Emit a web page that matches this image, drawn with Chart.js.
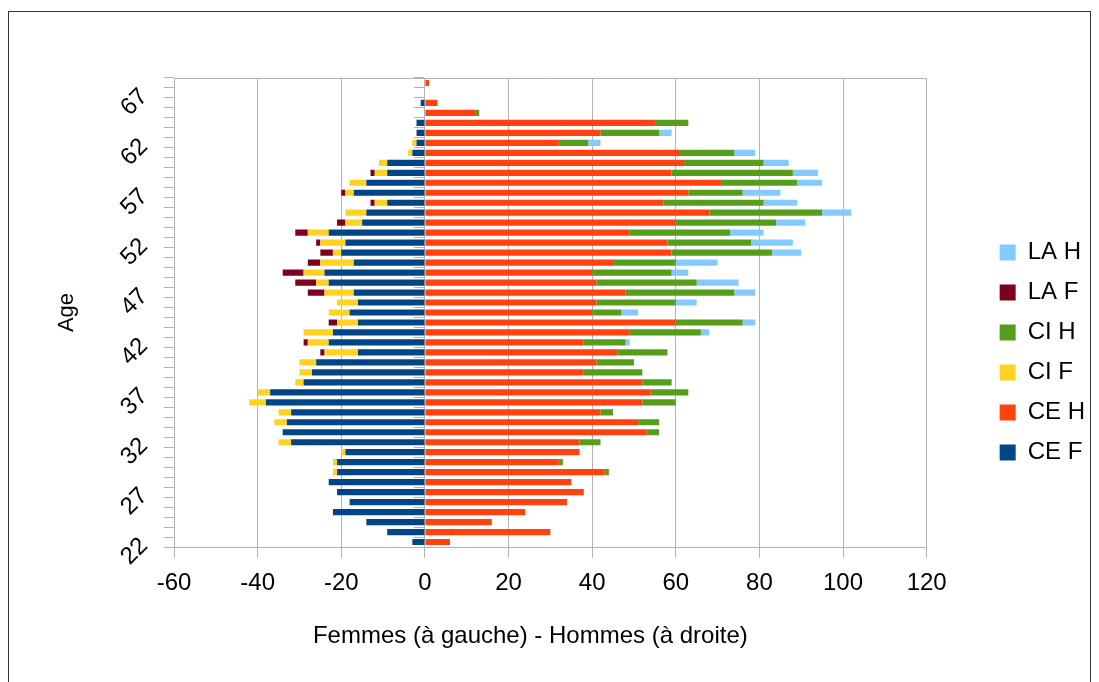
<!DOCTYPE html>
<html>
<head>
<meta charset="utf-8">
<script src="https://cdn.jsdelivr.net/npm/chart.js@4.4.1/dist/chart.umd.min.js"></script>
<style>
  html, body { margin: 0; padding: 0; background: #fff; }
  #frame { position: absolute; left: 8px; top: 11px; width: 1083px; height: 700px; border: 1px solid #333; box-sizing: border-box; }
  #wrap { position: absolute; left: 0; top: 0; width: 1099px; height: 682px; }
</style>
</head>
<body>
<div id="frame"></div>
<div id="wrap"><canvas id="pyramid"></canvas></div>
<script>
// ages 22 .. 68, bottom to top
const ages = [22, 23, 24, 25, 26, 27, 28, 29, 30, 31, 32, 33, 34, 35, 36, 37, 38, 39, 40,
  41, 42, 43, 44, 45, 46, 47, 48, 49, 50, 51, 52, 53, 54, 55, 56, 57, 58, 59, 60,
  61, 62, 63, 64, 65, 66, 67, 68];

// femmes (drawn on the left)
const ceF = [3, 9, 14, 22, 18, 21, 23, 21, 21, 19, 32, 34, 33, 32, 38, 37, 29, 27, 26,
  16, 23, 22, 16, 18, 16, 17, 23, 24, 17, 20, 19, 23, 15, 14, 9, 17, 14, 9, 9,
  3, 2, 2, 2, 0, 1, 0, 0];
const ciF = [0, 0, 0, 0, 0, 0, 0, 1, 1, 1, 3, 0, 3, 3, 4, 3, 2, 3, 4,
  8, 5, 7, 5, 5, 5, 7, 3, 5, 8, 2, 6, 5, 4, 5, 3, 2, 4, 3, 2,
  1, 1, 0, 0, 0, 0, 0, 0];
const laF = [0, 0, 0, 0, 0, 0, 0, 0, 0, 0, 0, 0, 0, 0, 0, 0, 0, 0, 0,
  1, 1, 0, 2, 0, 0, 4, 5, 5, 3, 3, 1, 3, 2, 0, 1, 1, 0, 1, 0,
  0, 0, 0, 0, 0, 0, 0, 0];

// hommes (drawn on the right)
const ceH = [6, 30, 16, 24, 34, 38, 35, 43, 32, 37, 37, 53, 51, 42, 52, 54, 52, 38, 41,
  46, 38, 49, 60, 40, 41, 48, 41, 40, 45, 59, 58, 49, 60, 68, 57, 63, 71, 59, 62,
  61, 32, 42, 55, 12, 3, 0, 1];
const ciH = [0, 0, 0, 0, 0, 0, 0, 1, 1, 0, 5, 3, 5, 3, 8, 9, 7, 14, 9,
  12, 10, 17, 16, 7, 19, 26, 24, 19, 15, 24, 20, 24, 24, 27, 24, 13, 18, 29, 19,
  13, 7, 14, 8, 1, 0, 0, 0];
const laH = [0, 0, 0, 0, 0, 0, 0, 0, 0, 0, 0, 0, 0, 0, 0, 0, 0, 0, 0,
  0, 1, 2, 3, 4, 5, 5, 10, 4, 10, 7, 10, 8, 7, 7, 8, 9, 6, 6, 6,
  5, 3, 3, 0, 0, 0, 0, 0];

const xTicks = [-60, -40, -20, 0, 20, 40, 60, 80, 100, 120];

const grey = '#b3b3b3';
Chart.defaults.font.family = "'Liberation Sans', Arial, sans-serif";
Chart.defaults.color = '#000';

function ds(label, values, color) {
  return { label: label, data: values, backgroundColor: color, borderWidth: 0,
    xAxisID: 'x', yAxisID: 'y', barPercentage: 0.62, categoryPercentage: 1 };
}

new Chart(document.getElementById('pyramid'), {
  type: 'bar',
  data: {
    labels: ages,
    datasets: [
      ds('CE F', ceF.map(v => -v), '#004586'),
      ds('CE H', ceH, '#ff420e'),
      ds('CI F', ciF.map(v => -v), '#ffd320'),
      ds('CI H', ciH, '#579d1c'),
      ds('LA F', laF.map(v => -v), '#7e0021'),
      ds('LA H', laH, '#83caff')
    ]
  },
  options: {
    indexAxis: 'y',
    responsive: true,
    maintainAspectRatio: false,
    animation: false,
    layout: { padding: { left: 50, top: 50, bottom: 27, right: 4 } },
    plugins: {
      tooltip: { enabled: false },
      legend: {
        position: 'right',
        reverse: true,
        labels: { boxWidth: 16, boxHeight: 16, padding: 16, color: '#000', font: { size: 24 } }
      }
    },
    scales: {
      x: {
        type: 'linear', position: 'bottom', stacked: true,
        min: xTicks[0], max: xTicks[xTicks.length - 1],
        afterBuildTicks: s => { s.ticks = xTicks.map(v => ({ value: v })); },
        ticks: { color: '#000', font: { size: 24 }, padding: 11 },
        grid: { color: grey, tickLength: 11 },
        border: { color: grey },
        title: {
          display: true,
          text: 'Femmes (à gauche) - Hommes (à droite)\u00a0\u00a0\u00a0\u00a0\u00a0\u00a0',
          color: '#000', font: { size: 24 }
        },
        afterFit: s => { s.height = 108; }
      },
      xTop: {
        type: 'linear', position: 'top', axis: 'x',
        min: xTicks[0], max: xTicks[xTicks.length - 1],
        ticks: { display: false },
        grid: { drawOnChartArea: false, drawTicks: false },
        border: { color: grey },
        afterFit: s => { s.height = 28; }
      },
      y: {
        type: 'category', labels: ages, reverse: true, stacked: true, offset: true,
        ticks: {
          autoSkip: false, minRotation: 45, maxRotation: 45, padding: 20,
          color: '#000', font: { size: 24 },
          callback: function (v) {
            const a = Number(this.getLabelForValue(v));
            return (a - 22) % 5 === 0 ? String(a) : '';
          }
        },
        grid: { offset: true, drawOnChartArea: false, tickLength: 10, color: grey },
        border: { color: grey },
        title: { display: true, text: 'Age', color: '#000', font: { size: 22 } },
        afterFit: s => { s.width = 124; }
      },
      yZero: {
        type: 'category', axis: 'y', labels: ages, reverse: true, offset: true,
        position: { x: 0 },
        ticks: { display: false },
        grid: { offset: true, drawOnChartArea: false, tickLength: 10, color: grey },
        border: { color: grey }
      },
      gap: {
        type: 'linear', axis: 'y', position: 'right',
        ticks: { display: false },
        grid: { display: false },
        border: { display: false },
        afterFit: s => { s.width = 57; }
      }
    }
  }
});
</script>
</body>
</html>
